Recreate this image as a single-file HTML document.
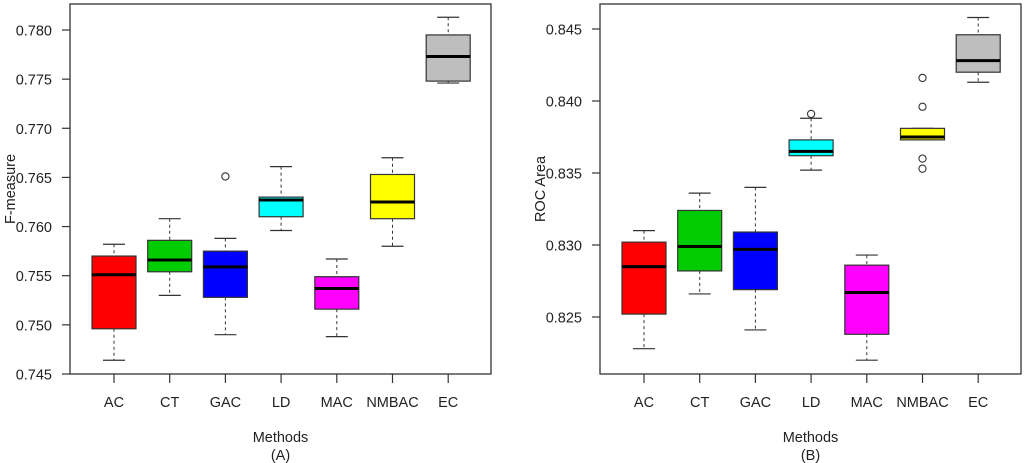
<!DOCTYPE html>
<html><head><meta charset="utf-8"><style>
html,body{margin:0;padding:0;background:#fff;}
svg{display:block;font-family:"Liberation Sans",Arial,sans-serif;}
</style></head><body>
<svg id="chart" width="1024" height="463" viewBox="0 0 1024 463" xmlns="http://www.w3.org/2000/svg"></svg>
<script>
const categories = ["AC","CT","GAC","LD","MAC","NMBAC","EC"];
const boxColors = ["#ff0000","#00cc00","#0000ff","#00ffff","#ff00ff","#ffff00","#bebebe"];
// F-measure: [lowWhisker, Q1, median, Q3, highWhisker]
const fLow = [0.7464,0.7530,0.7490,0.7596,0.7488,0.7580,0.7746];
const fQ1  = [0.7496,0.7554,0.7528,0.7610,0.7516,0.7608,0.7748];
const fMed = [0.7551,0.7566,0.7559,0.7627,0.7537,0.7625,0.7773];
const fQ3  = [0.7570,0.7586,0.7575,0.7630,0.7549,0.7653,0.7795];
const fHigh= [0.7582,0.7608,0.7588,0.7661,0.7567,0.7670,0.7813];
const fOutliers = [[],[],[0.7651],[],[],[],[]];
const fTicks = [0.745,0.750,0.755,0.760,0.765,0.770,0.775,0.780];
// ROC Area
const rLow = [0.8228,0.8266,0.8241,0.8352,0.8220,0.8373,0.8413];
const rQ1  = [0.8252,0.8282,0.8269,0.8362,0.8238,0.8373,0.8420];
const rMed = [0.8285,0.8299,0.8297,0.8365,0.8267,0.8375,0.8428];
const rQ3  = [0.8302,0.8324,0.8309,0.8373,0.8286,0.8381,0.8446];
const rHigh= [0.8310,0.8336,0.8340,0.8388,0.8293,0.8381,0.8458];
const rOutliers = [[],[],[],[0.8391],[],[0.8416,0.8396,0.8360,0.8353],[]];
const rTicks = [0.825,0.830,0.835,0.840,0.845];

const svg=document.getElementById('chart');
const NS="http://www.w3.org/2000/svg";
function mk(tag,attrs,parent){const e=document.createElementNS(NS,tag);for(const k in attrs)e.setAttribute(k,attrs[k]);(parent||svg).appendChild(e);return e;}

function panel(cfg){
  const g=mk('g',{});
  
  
  const {x0,x1,y0,y1}=cfg;
  const yS=v=>cfg.yRefPix+(cfg.yRefVal-v)*cfg.pxPerUnit;
  const xS=i=>cfg.firstX+i*cfg.step;
  const frame=mk('rect',{x:x0,y:y0,width:x1-x0,height:y1-y0,fill:'none',stroke:'#333','stroke-width':1.3},g);
  
  
  cfg.ticks.forEach(t=>{
    const y=yS(t);
    mk('line',{x1:x0-8,x2:x0,y1:y,y2:y,stroke:'#333','stroke-width':1.2},g);
    const tx=mk('text',{x:x0-18,y:y+5.5,'text-anchor':'end','font-size':14.5,fill:'#222'},g);
    tx.textContent=t.toFixed(3);
    
    
  });
  const hw=22;
  categories.forEach((c,i)=>{
    const x=xS(i);
    mk('line',{x1:x,x2:x,y1:y1,y2:y1+9,stroke:'#333','stroke-width':1.2},g);
    const tl=mk('text',{x:x,y:407,'text-anchor':'middle','font-size':14.5,fill:'#222'},g);
    tl.textContent=c;
    
    
    const bg=mk('g',{},g);
    
    
    const lo=cfg.low[i],q1=cfg.q1[i],md=cfg.med[i],q3=cfg.q3[i],hi=cfg.high[i];
    mk('line',{x1:x,x2:x,y1:yS(hi),y2:yS(q3),stroke:'#333','stroke-dasharray':'3,3','stroke-width':1},bg);
    mk('line',{x1:x,x2:x,y1:yS(q1),y2:yS(lo),stroke:'#333','stroke-dasharray':'3,3','stroke-width':1},bg);
    mk('line',{x1:x-11,x2:x+11,y1:yS(hi),y2:yS(hi),stroke:'#333','stroke-width':1.2},bg);
    mk('line',{x1:x-11,x2:x+11,y1:yS(lo),y2:yS(lo),stroke:'#333','stroke-width':1.2},bg);
    mk('rect',{x:x-hw,y:yS(q3),width:2*hw,height:Math.max(1,yS(q1)-yS(q3)),fill:boxColors[i],stroke:'#333','stroke-width':1.2},bg);
    mk('line',{x1:x-hw,x2:x+hw,y1:yS(md),y2:yS(md),stroke:'#000','stroke-width':3},bg);
    cfg.out[i].forEach(o=>{
      const c2=mk('circle',{cx:x,cy:yS(o),r:3.6,fill:'none',stroke:'#333','stroke-width':1.1},bg);
      
      
    });
  });
  const xt=mk('text',{x:(x0+x1)/2,y:442,'text-anchor':'middle','font-size':14.5,fill:'#222'},g);
  xt.textContent='Methods';
  
  
  const st=mk('text',{x:(x0+x1)/2,y:460,'text-anchor':'middle','font-size':14.5,fill:'#222'},g);
  st.textContent=cfg.sub;
  
  
  const yt=mk('text',{x:0,y:0,'text-anchor':'middle','font-size':14.5,fill:'#222',transform:`translate(${cfg.titleX},${cfg.titleY}) rotate(-90)`},g);
  yt.textContent=cfg.ytitle;
  
  
}
panel({name:'f-measure-panel',x0:70,x1:491,y0:4,y1:374,yRefVal:0.780,yRefPix:30,pxPerUnit:(374-30)/0.035,
  firstX:114,step:55.7,ticks:fTicks,low:fLow,q1:fQ1,med:fMed,q3:fQ3,high:fHigh,out:fOutliers,sub:'(A)',ytitle:'F-measure',titleX:15,titleY:189});
panel({name:'roc-area-panel',x0:600,x1:1021,y0:4,y1:374,yRefVal:0.845,yRefPix:29,pxPerUnit:(317-29)/0.020,
  firstX:644,step:55.7,ticks:rTicks,low:rLow,q1:rQ1,med:rMed,q3:rQ3,high:rHigh,out:rOutliers,sub:'(B)',ytitle:'ROC Area',titleX:545,titleY:189});
</script>
</body></html>
